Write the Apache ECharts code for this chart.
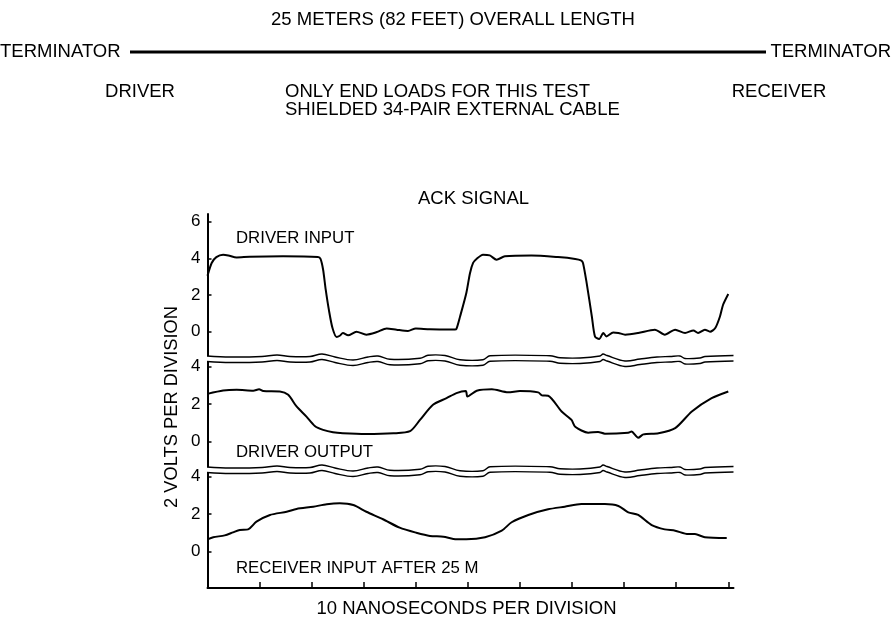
<!DOCTYPE html>
<html>
<head>
<meta charset="utf-8">
<script src="https://cdn.jsdelivr.net/npm/echarts@6/dist/echarts.min.js"></script>
<style>
  html, body { margin: 0; padding: 0; background: #fff; }
  #chart { width: 891px; height: 621px; }
</style>
</head>
<body>
<div id="chart"></div>
<script>
// Time ticks (10 ns per division) and voltage ticks (2 V per division)
const timeTicks = [1, 2, 3, 4, 5, 6, 7, 8, 9, 10];
const voltTicksTop = [0, 2, 4, 6];
const voltTicks = [0, 2, 4];

// Driver input trace
const driverInputT = [0, 0.08, 0.17, 0.3, 0.4, 0.56, 0.81, 1.45, 2.12, 2.17, 2.22, 2.27, 2.33, 2.4, 2.48, 2.54, 2.6, 2.7, 2.86, 3.05, 3.25, 3.44, 3.63, 3.85, 4.0, 4.27, 4.75, 4.78, 4.85, 4.97, 5.04, 5.1, 5.17, 5.29, 5.42, 5.55, 5.71, 6.22, 6.73, 7.06, 7.17, 7.21, 7.28, 7.38, 7.44, 7.52, 7.6, 7.66, 7.79, 7.89, 8.02, 8.27, 8.59, 8.78, 8.98, 9.17, 9.33, 9.42, 9.55, 9.65, 9.75, 9.84, 9.9, 10.0];
const driverInputV = [3.05, 3.75, 4.07, 4.2, 4.16, 4.05, 4.09, 4.11, 4.07, 3.97, 3.38, 2.29, 1.2, 0.2, -0.29, -0.22, -0.07, -0.2, 0, -0.16, -0.02, 0.18, 0.11, 0.04, 0.18, 0.13, 0.12, 0.15, 0.83, 2.11, 3.19, 3.75, 3.98, 4.2, 4.16, 3.93, 4.11, 4.16, 4.07, 3.97, 3.89, 3.75, 2.66, 0.83, -0.26, -0.4, -0.07, -0.26, -0.04, -0.07, -0.16, -0.07, 0.11, -0.16, 0.11, -0.07, 0.07, -0.07, 0.11, 0, 0.2, 0.83, 1.47, 2.06];

// Driver output trace
const driverOutputT = [0, 0.3, 0.56, 0.88, 0.99, 1.07, 1.39, 1.55, 1.71, 1.9, 2.06, 2.22, 2.41, 2.6, 3.05, 3.57, 3.89, 4.08, 4.33, 4.59, 4.78, 4.96, 4.99, 5.17, 5.46, 5.77, 6.0, 6.35, 6.42, 6.54, 6.8, 6.99, 7.06, 7.31, 7.5, 7.63, 8.08, 8.14, 8.27, 8.37, 8.66, 8.98, 9.3, 9.68, 10.0];
const driverOutputV = [2.55, 2.73, 2.77, 2.72, 2.8, 2.7, 2.68, 2.5, 1.88, 1.34, 0.84, 0.63, 0.5, 0.45, 0.41, 0.45, 0.56, 1.16, 1.97, 2.32, 2.59, 2.7, 2.41, 2.72, 2.8, 2.64, 2.7, 2.63, 2.47, 2.45, 1.61, 1.16, 0.8, 0.48, 0.52, 0.43, 0.48, 0.54, 0.21, 0.39, 0.45, 0.72, 1.61, 2.32, 2.68];

// Receiver input trace after 25 m of cable
const receiverInputT = [0, 0.11, 0.33, 0.49, 0.62, 0.78, 0.94, 1.2, 1.52, 1.71, 2.03, 2.29, 2.54, 2.8, 3.05, 3.37, 3.69, 4.01, 4.27, 4.53, 4.72, 4.97, 5.33, 5.65, 5.84, 6.16, 6.54, 6.86, 7.18, 7.63, 7.89, 8.08, 8.27, 8.53, 8.78, 8.98, 9.23, 9.36, 9.55, 9.97];
const receiverInputV = [0.66, 0.77, 0.87, 1.03, 1.16, 1.19, 1.6, 1.96, 2.13, 2.28, 2.4, 2.53, 2.58, 2.49, 2.13, 1.73, 1.28, 1.01, 0.84, 0.8, 0.68, 0.66, 0.77, 1.12, 1.57, 1.96, 2.26, 2.4, 2.54, 2.54, 2.44, 2.1, 1.96, 1.42, 1.19, 1.12, 0.94, 0.94, 0.77, 0.73];

const zip = (t, v) => t.map((x, i) => [x, v[i]]);

const FONT = '"Liberation Sans", Arial, Helvetica, sans-serif';
const INK = '#000';

// Panel frames (pixels) and their voltage windows
const plotLeft = 207.5, plotWidth = 526;
const panels = [
  { top: 214, height: 146, min: -1.544, max: 6.42, ticks: voltTicksTop },
  { top: 360, height: 110, min: -1.509, max: 4.357, ticks: voltTicks },
  { top: 470, height: 118, min: -1.936, max: 4.357, ticks: voltTicks }
];

const grids = panels.map(p => ({ left: plotLeft, top: p.top, width: plotWidth, height: p.height }));

const xAxes = panels.map((p, i) => ({
  type: 'value', gridIndex: i, min: 0, max: 10.1,
  show: i === 2,
  axisLine: { show: true, onZero: false, lineStyle: { color: INK, width: 2 } },
  axisTick: { show: true, inside: true, length: 6, lineStyle: { color: INK, width: 1.5 }, customValues: timeTicks },
  axisLabel: { show: false },
  splitLine: { show: false }
}));

const yAxes = panels.map((p, i) => ({
  type: 'value', gridIndex: i, min: p.min, max: p.max,
  axisLine: { show: true, onZero: false, lineStyle: { color: INK, width: 2 } },
  axisTick: { show: true, inside: true, length: 4, lineStyle: { color: INK, width: 1.5 }, customValues: p.ticks },
  axisLabel: { show: true, customValues: p.ticks, margin: 7, fontFamily: FONT, fontSize: 17, color: INK },
  splitLine: { show: false }
}));

const traces = [zip(driverInputT, driverInputV), zip(driverOutputT, driverOutputV), zip(receiverInputT, receiverInputV)];
const series = traces.map((d, i) => ({
  type: 'line', xAxisIndex: i, yAxisIndex: i, data: d,
  showSymbol: false, smooth: 0.25, silent: true,
  lineStyle: { color: INK, width: 2 }, z: 3
}));

// Axis-break marks: wavy double lines between panels
const wave = [[207,356],[230,357],[262,356.5],[277,355],[290,356.5],[310,356.5],[322,354],[335,357],[353,360],[368,357],[378,356],[390,359.3],[420,358.3],[428,355.3],[445,355.5],[460,359.7],[483,359.7],[490,355.7],[550,355.7],[560,357.7],[580,358],[600,356],[603,354],[607,355.5],[625,361],[640,359],[657,357],[670,356.5],[680,356],[685,358.5],[700,358],[705,356.5],[733.5,355.5]];
const gap = 5.5;
const breakGraphics = [];
[0, 111].forEach(shift => {
  const upper = wave.map(([x, y]) => [x, y + shift]);
  const lower = wave.map(([x, y]) => [x, y + shift + gap]);
  breakGraphics.push({ type: 'polygon', shape: { points: upper.concat(lower.slice().reverse()) }, style: { fill: '#fff', stroke: null }, z: 10 });
  breakGraphics.push({ type: 'polyline', shape: { points: upper, smooth: 0.35 }, style: { stroke: INK, lineWidth: 1.4, fill: null }, z: 11 });
  breakGraphics.push({ type: 'polyline', shape: { points: lower, smooth: 0.35 }, style: { stroke: INK, lineWidth: 1.4, fill: null }, z: 11 });
});

const txt = (text, x, y, align, size) => ({
  type: 'text', z: 12,
  style: { text, x, y, align: align || 'left', verticalAlign: 'middle', fontFamily: FONT, fontSize: size || 18.5, fill: INK }
});

const textGraphics = [
  txt('25 METERS (82 FEET) OVERALL LENGTH', 453, 20, 'center'),
  txt('TERMINATOR', 0, 52, 'left'),
  txt('TERMINATOR', 891, 52, 'right'),
  txt('DRIVER', 140, 92, 'center'),
  txt('ONLY END LOADS FOR THIS TEST', 285, 92, 'left'),
  txt('SHIELDED 34-PAIR EXTERNAL CABLE', 285, 110, 'left'),
  txt('RECEIVER', 779, 92, 'center'),
  txt('ACK SIGNAL', 473.5, 199, 'center'),
  txt('DRIVER INPUT', 236, 238, 'left', 16.8),
  txt('DRIVER OUTPUT', 236, 452, 'left', 16.8),
  txt('RECEIVER INPUT AFTER 25 M', 236, 568, 'left', 16.8),
  txt('10 NANOSECONDS PER DIVISION', 466.5, 609, 'center'),
  { type: 'text', z: 12, x: 172, y: 407, rotation: Math.PI / 2,
    style: { text: '2 VOLTS PER DIVISION', x: 0, y: 0, align: 'center', verticalAlign: 'middle', fontFamily: FONT, fontSize: 18.3, fill: INK } },
  { type: 'line', z: 12, shape: { x1: 130, y1: 52, x2: 766, y2: 52 }, style: { stroke: INK, lineWidth: 3 } }
];

const chart = echarts.init(document.getElementById('chart'), null, { renderer: 'canvas' });
chart.setOption({
  backgroundColor: '#fff',
  animation: false,
  grid: grids,
  xAxis: xAxes,
  yAxis: yAxes,
  series,
  graphic: breakGraphics.concat(textGraphics)
});
</script>
</body>
</html>
